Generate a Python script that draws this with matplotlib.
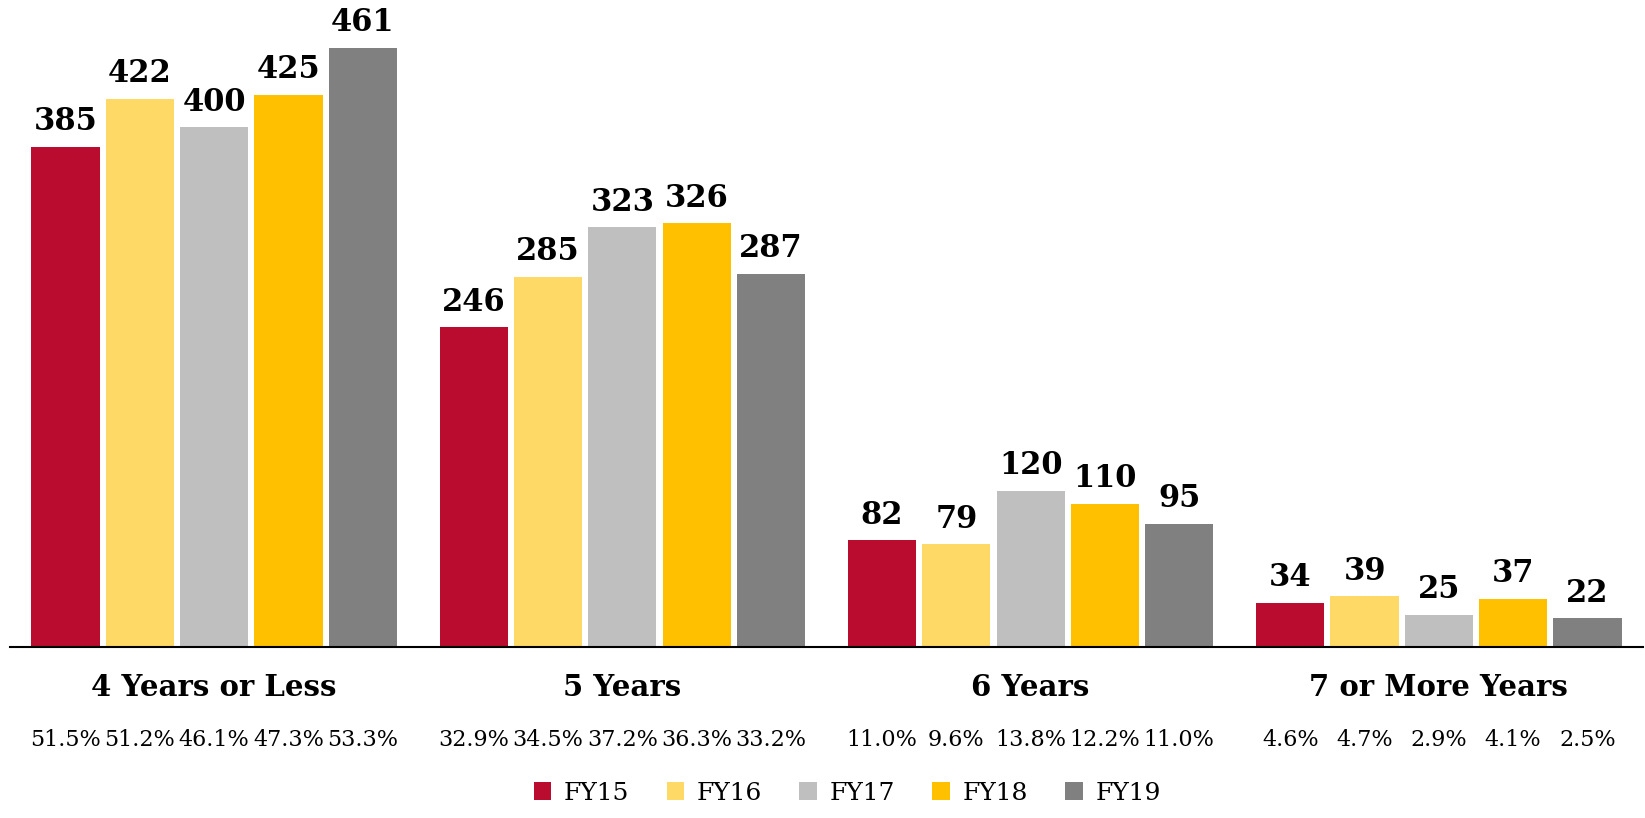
import numpy as np
import matplotlib.pyplot as plt
import matplotlib.transforms as mtransforms

# data
categories = ['4 Years or Less', '5 Years', '6 Years', '7 or More Years']
years = ['FY15', 'FY16', 'FY17', 'FY18', 'FY19']
fy15 = [385, 246, 82, 34]
fy16 = [422, 285, 79, 39]
fy17 = [400, 323, 120, 25]
fy18 = [425, 326, 110, 37]
fy19 = [461, 287, 95, 22]
pct15 = ['51.5%', '32.9%', '11.0%', '4.6%']
pct16 = ['51.2%', '34.5%', '9.6%', '4.7%']
pct17 = ['46.1%', '37.2%', '13.8%', '2.9%']
pct18 = ['47.3%', '36.3%', '12.2%', '4.1%']
pct19 = ['53.3%', '33.2%', '11.0%', '2.5%']

series = [fy15, fy16, fy17, fy18, fy19]
pcts = [pct15, pct16, pct17, pct18, pct19]
colors = ['#BA0C2F', '#FFD966', '#BFBFBF', '#FFC000', '#808080']

plt.rcParams['font.family'] = ['DejaVu Serif']

fig = plt.figure(figsize=(16.45, 8.18), dpi=100)
ax = fig.add_axes([10 / 1645, 171 / 818, 1633 / 1645, 647 / 818])

x = np.arange(len(categories))
width = 0.167
step = 0.182
for i, (vals, col, name) in enumerate(zip(series, colors, years)):
    pos = x + (i - 2) * step
    bars = ax.bar(pos, vals, width, color=col, label=name)
    for b, v in zip(bars, vals):
        ax.annotate(str(v), (b.get_x() + b.get_width() / 2, v),
                    xytext=(0, 7), textcoords='offset points',
                    ha='center', va='bottom', fontsize=22, fontweight='bold')

ax.set_xlim(-0.5, 3.5)
ax.set_ylim(0, 498)
for s in ['top', 'right', 'left']:
    ax.spines[s].set_visible(False)
ax.spines['bottom'].set_linewidth(1.5)
ax.set_yticks([])
ax.set_xticks([])

trans = mtransforms.blended_transform_factory(ax.transData, fig.transFigure)
for j, cat in enumerate(categories):
    ax.text(x[j], 0.160, cat, transform=trans, ha='center', va='center',
            fontsize=21, fontweight='bold')
    for i in range(5):
        ax.text(x[j] + (i - 2) * step, 0.0954, pcts[i][j], transform=trans,
                ha='center', va='center', fontsize=16)

fig.legend(loc='center', bbox_to_anchor=(0.515, 0.03), ncol=5, frameon=False,
           fontsize=18, handlelength=0.7, handleheight=0.7, columnspacing=1.5,
           handletextpad=0.5)

fig.savefig('out.png', dpi=100)
